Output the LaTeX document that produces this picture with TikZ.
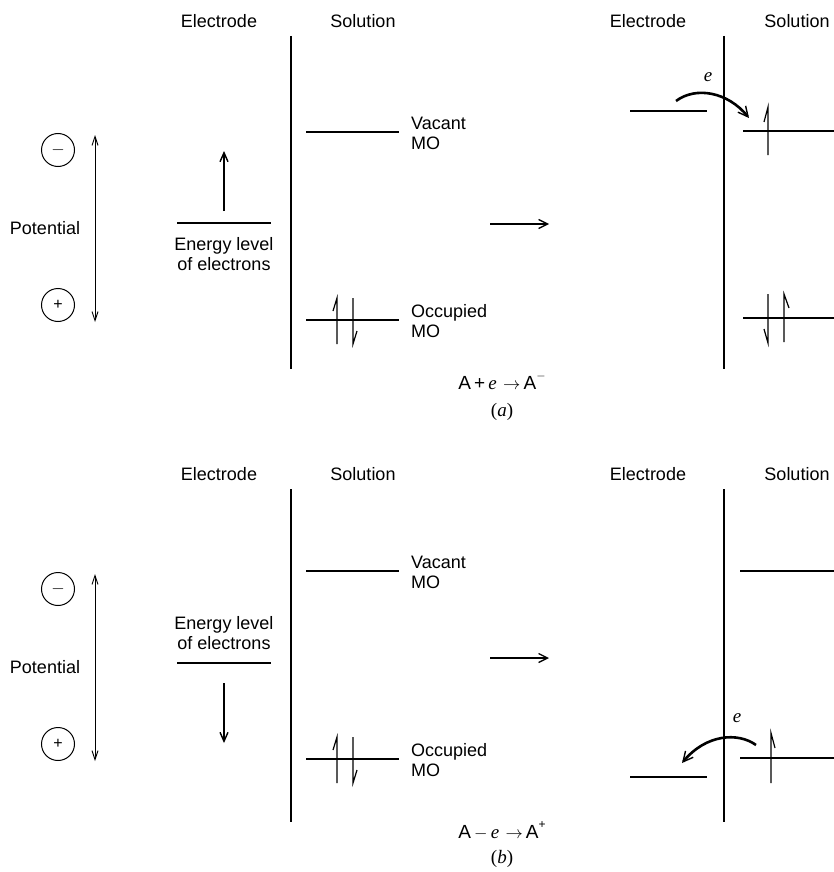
\documentclass[tikz,border=0pt]{standalone}
\usepackage{fontspec}
\setmainfont{Liberation Sans}
\newfontfamily\seriffont{Liberation Serif}
\usetikzlibrary{arrows.meta}
\tikzset{
  lbl/.style={font=\fontsize{18}{20}\selectfont, inner sep=0pt},
  mlbl/.style={lbl, align=left, anchor=west},
  clbl/.style={lbl, align=center},
  wall/.style={line width=2pt},
  level/.style={line width=1.8pt},
  spin/.style={line width=1.2pt},
  bigarrow/.style={line width=2.6pt, -{Straight Barb[length=9pt,width=8pt,line width=1.4pt]}},
  midarrow/.style={line width=2.2pt, -{Straight Barb[length=9pt,width=9pt,line width=1.3pt]}},
  potarrow/.style={line width=0.9pt, {Straight Barb[length=9pt,width=6pt]}-{Straight Barb[length=9pt,width=6pt]}},
  earrow/.style={line width=2.6pt, -{Straight Barb[length=10pt,width=10pt,line width=1.4pt]}},
  sign/.style={circle, draw, line width=1pt, minimum size=33pt, inner sep=0pt, font=\fontsize{16}{16}\selectfont},
  eqn/.style={font=\fontsize{19}{19}\selectfont, inner sep=0pt},
  capt/.style={font=\seriffont\fontsize{19}{19}\selectfont, inner sep=0pt},
  elab/.style={font=\seriffont\itshape\fontsize{19}{19}\selectfont, inner sep=0pt},
}
\begin{document}
\begin{tikzpicture}[x=1pt,y=-1pt]
\useasboundingbox (0,0) rectangle (834,872);
\fill[white] (0,0) rectangle (834,872);

\foreach \p/\dh/\dy/\dm in {a/0/0/0, b/453/439/434} {
  \begin{scope}[yshift=-\dh pt]
  % headers
  \node[lbl] (el\p) at (219,21) {Electrode};
  \node[lbl] (so\p) at (363,21) {Solution};
  \node[lbl] (elr\p) at (648,21) {Electrode};
  \node[lbl] (sor\p) at (797,21) {Solution};
  % electrode walls
  \coordinate (wt\p) at (291,36);
  \coordinate (wb\p) at (291,369);
  \draw[wall] (wt\p) -- (wb\p);
  \coordinate (rwt\p) at (724,36);
  \coordinate (rwb\p) at (724,369);
  \draw[wall] (rwt\p) -- (rwb\p);
  \end{scope}
  \begin{scope}[yshift=-\dy pt]
  % potential scale
  \node[sign] (minus\p) at (58,150) {$-$};
  \node[sign] (plus\p) at (58,305) {+};
  \node[lbl] (pot\p) at (45,228) {Potential};
  \coordinate (pt\p) at (95,135);
  \coordinate (pb\p) at (95,322);
  \draw[potarrow] (pt\p) -- (pb\p);
  % vacant MO (left)
  \coordinate (va1\p) at (306,132);
  \coordinate (va2\p) at (399,132);
  \draw[level] (va1\p) -- (va2\p);
  \node[mlbl] (vat\p) at (411,133) {Vacant\\MO};
  % occupied MO (left)
  \coordinate (oc1\p) at (306,320);
  \coordinate (oc2\p) at (399,320);
  \draw[level] (oc1\p) -- (oc2\p);
  \node[mlbl] (oct\p) at (411,321) {Occupied\\MO};
  \draw[spin] (337,344) -- (337,298) -- (333,311);
  \draw[spin] (353,298) -- (353,344) -- (357,331);
  \end{scope}
  \begin{scope}[yshift=-\dm pt]
  \coordinate (m1\p) at (490,224);
  \coordinate (m2\p) at (549,224);
  \draw[midarrow] (m1\p) -- (m2\p);
  \end{scope}
}

% ---------- panel (a) ----------
\coordinate (ela) at (177,223);
\coordinate (elb2) at (271,223);
\draw[level] (ela) -- (elb2);
\coordinate (ua1) at (224,211);
\coordinate (ua2) at (224,151);
\draw[bigarrow] (ua1) -- (ua2);
\node[clbl] (entxa) at (224,254) {Energy level\\of electrons};
% right side (a)
\coordinate (rela1) at (630,111);
\coordinate (rela2) at (707,111);
\draw[level] (rela1) -- (rela2);
\coordinate (rva1) at (743,131);
\coordinate (rva2) at (834,131);
\draw[level] (rva1) -- (rva2);
\draw[spin] (768,155) -- (768,107) -- (764,122);
\coordinate (roa1) at (743,318);
\coordinate (roa2) at (834,318);
\draw[level] (roa1) -- (roa2);
\draw[spin] (768,294) -- (768,343) -- (764,329);
\draw[spin] (784,342) -- (784,294) -- (789,308);
\coordinate (ea1) at (676,101);
\coordinate (ea2) at (749,118);
\draw[earrow] (ea1) .. controls (696,86) and (728,92) .. (ea2);
\node[elab] (ela2) at (708,77) {e};
\node[eqn] (eqa) at (502,381) {A\,+\,{\seriffont\itshape e}\,\,$\rightarrow$\,A\raisebox{0.55em}{\fontsize{12}{12}\selectfont $-$}};
\node[capt] (capa) at (502,412) {(\textit{a})};

% ---------- panel (b) ----------
\coordinate (elb1) at (177,663);
\coordinate (elb3) at (271,663);
\draw[level] (elb1) -- (elb3);
\coordinate (ub1) at (224,683);
\coordinate (ub2) at (224,743);
\draw[bigarrow] (ub1) -- (ub2);
\node[clbl] (entxb) at (224,633) {Energy level\\of electrons};
% right side (b)
\coordinate (relb1) at (630,777);
\coordinate (relb2) at (707,777);
\draw[level] (relb1) -- (relb2);
\coordinate (rvb1) at (740,571);
\coordinate (rvb2) at (834,571);
\draw[level] (rvb1) -- (rvb2);
\coordinate (rob1) at (740,758);
\coordinate (rob2) at (834,758);
\draw[level] (rob1) -- (rob2);
\draw[spin] (771,783) -- (771,733) -- (775,748);
\coordinate (eb1) at (756,745);
\coordinate (eb2) at (682,763);
\draw[earrow] (eb1) .. controls (738,732) and (706,734) .. (eb2);
\node[elab] (elb) at (737,718) {e};
\node[eqn] (eqb) at (502,831) {A\,$-$\,{\seriffont\itshape e}\,\,$\rightarrow$\,A\raisebox{0.55em}{\fontsize{12}{12}\selectfont +}};
\node[capt] (capb) at (502,859) {(\textit{b})};
\end{tikzpicture}
\end{document}
